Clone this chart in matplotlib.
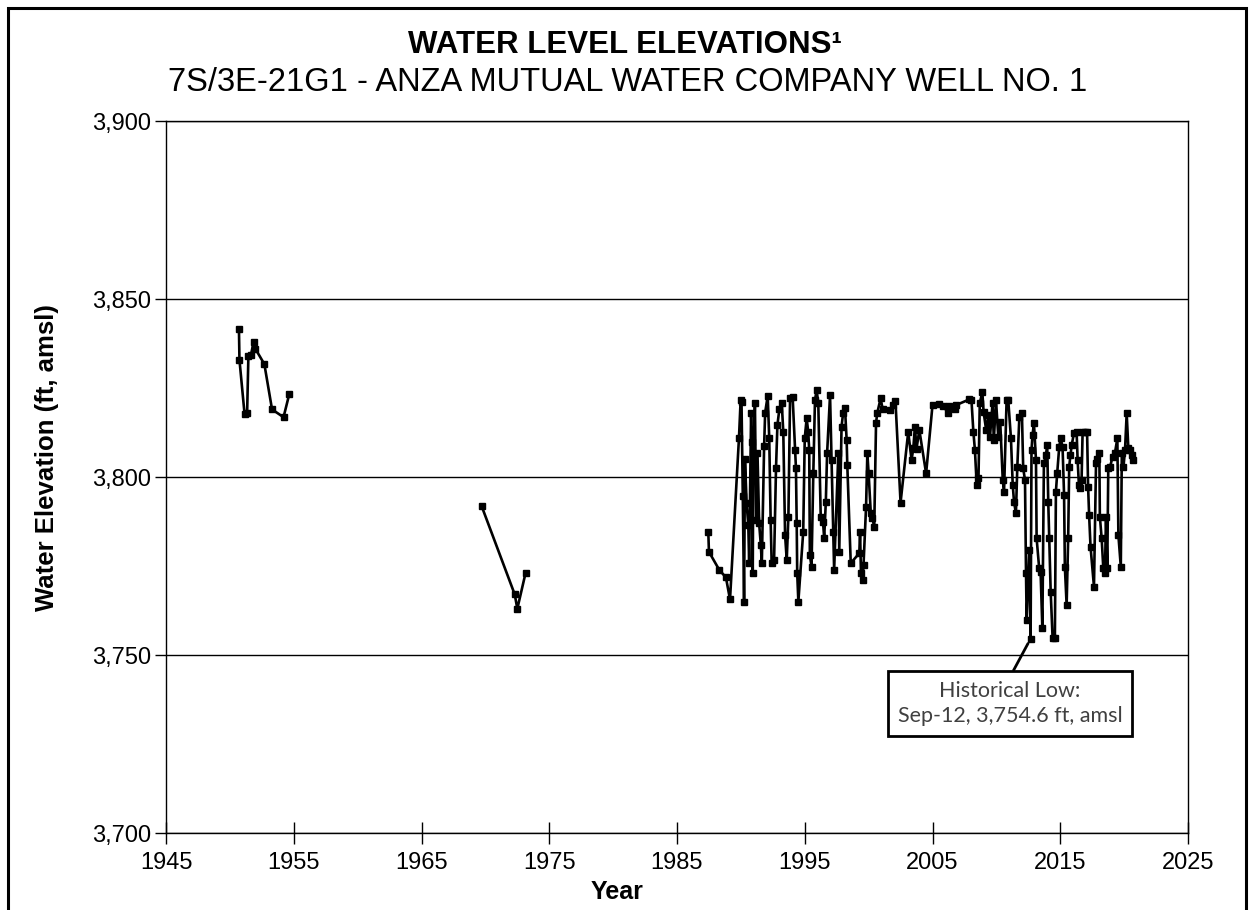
import matplotlib
matplotlib.use("Agg")
import matplotlib.pyplot as plt
from matplotlib.patches import Rectangle

plt.rcParams["font.family"] = ["Liberation Sans Narrow", "Liberation Sans", "DejaVu Sans"]

# 1950s record
yr_1950s = [1950.71, 1950.75, 1951.15, 1951.35, 1951.45, 1951.65, 1951.85, 1952.0,
            1952.7, 1953.3, 1954.2, 1954.65]
el_1950s = [3841.6, 3832.9, 3817.7, 3818.0, 3834.0, 3834.3, 3837.8, 3836.0,
            3831.7, 3819.0, 3816.8, 3823.3]

# early 1970s record
yr_1970s = [1969.7, 1972.3, 1972.5, 1973.15]
el_1970s = [3791.9, 3767.0, 3763.0, 3773.1]

# 1987 - 2020 record
yr_recent = [
    1987.45, 1987.5, 1988.31, 1988.83, 1989.15, 1989.85, 1989.98, 1990.05, 1990.15, 1990.25,
    1990.32, 1990.45, 1990.58, 1990.65, 1990.8, 1990.85, 1990.93, 1990.97, 1991.1, 1991.2,
    1991.3, 1991.43, 1991.56, 1991.64, 1991.82, 1991.9, 1992.1, 1992.22, 1992.33, 1992.41,
    1992.6, 1992.75, 1992.86, 1993.01, 1993.2, 1993.32, 1993.46, 1993.59, 1993.72, 1993.85,
    1994.05, 1994.24, 1994.31, 1994.37, 1994.41, 1994.5, 1994.88, 1995.0, 1995.15, 1995.27,
    1995.35, 1995.4, 1995.53, 1995.67, 1995.8, 1995.93, 1996.06, 1996.25, 1996.43, 1996.52,
    1996.65, 1996.75, 1996.98, 1997.1, 1997.23, 1997.3, 1997.63, 1997.7, 1997.88, 1998.0,
    1998.15, 1998.28, 1998.33, 1998.6, 1999.27, 1999.33, 1999.4, 1999.53, 1999.6, 1999.8,
    1999.9, 2000.0, 2000.17, 2000.3, 2000.44, 2000.58, 2000.67, 2000.94, 2001.1, 2001.7,
    2001.87, 2002.1, 2002.5, 2003.1, 2003.36, 2003.5, 2003.62, 2003.75, 2003.97, 2004.5,
    2005.0, 2005.53, 2005.84, 2006.25, 2006.3, 2006.76, 2006.84, 2007.88, 2008.05, 2008.2,
    2008.32, 2008.46, 2008.6, 2008.7, 2008.9, 2009.0, 2009.2, 2009.37, 2009.5, 2009.7,
    2009.8, 2009.97, 2010.15, 2010.3, 2010.5, 2010.6, 2010.8, 2010.93, 2011.14, 2011.28,
    2011.38, 2011.53, 2011.64, 2011.8, 2012.0, 2012.1, 2012.24, 2012.32, 2012.37, 2012.57,
    2012.68, 2012.75, 2012.83, 2012.94, 2013.1, 2013.15, 2013.35, 2013.46, 2013.6, 2013.72,
    2013.88, 2013.98, 2014.06, 2014.14, 2014.25, 2014.4, 2014.58, 2014.66, 2014.76, 2014.92,
    2015.03, 2015.18, 2015.3, 2015.36, 2015.5, 2015.62, 2015.7, 2015.8, 2015.9, 2016.07,
    2016.28, 2016.36, 2016.46, 2016.54, 2016.67, 2016.75, 2016.93, 2017.1, 2017.18, 2017.26,
    2017.37, 2017.64, 2017.8, 2017.9, 2018.06, 2018.1, 2018.24, 2018.37, 2018.5, 2018.58,
    2018.68, 2018.76, 2018.9, 2019.1, 2019.28, 2019.47, 2019.55, 2019.74, 2019.82, 2019.95,
    2020.07, 2020.2, 2020.33, 2020.46, 2020.6, 2020.67,
]
el_recent = [
    3784.6, 3779.0, 3773.9, 3771.8, 3765.6, 3810.9, 3821.5, 3821.0, 3794.7, 3765.0,
    3805.0, 3792.6, 3786.5, 3775.8, 3817.9, 3809.9, 3772.9, 3803.8, 3820.7, 3787.9,
    3806.7, 3787.0, 3780.9, 3775.8, 3808.7, 3818.1, 3822.8, 3810.9, 3787.9, 3775.8,
    3776.7, 3802.4, 3814.6, 3819.0, 3820.7, 3812.7, 3783.7, 3776.7, 3788.9, 3822.1,
    3822.6, 3807.6, 3802.6, 3787.0, 3772.9, 3765.0, 3784.6, 3810.9, 3816.5, 3812.7,
    3807.6, 3778.1, 3774.8, 3801.0, 3821.6, 3824.4, 3820.7, 3788.9, 3787.4, 3782.8,
    3793.1, 3806.7, 3823.0, 3804.8, 3784.6, 3773.9, 3806.7, 3779.0, 3814.1, 3817.9,
    3819.3, 3810.4, 3803.4, 3775.8, 3778.6, 3784.6, 3772.9, 3771.1, 3775.3, 3791.7,
    3806.7, 3801.0, 3789.8, 3788.4, 3786.0, 3815.1, 3817.9, 3822.1, 3819.0, 3818.8,
    3820.2, 3821.4, 3792.8, 3812.7, 3804.8, 3808.1, 3814.1, 3808.0, 3813.2, 3801.0,
    3820.2, 3820.5, 3819.9, 3817.9, 3819.9, 3819.0, 3820.2, 3821.8, 3821.6, 3812.7,
    3807.6, 3797.8, 3799.7, 3820.7, 3823.9, 3818.3, 3813.2, 3817.4, 3811.3, 3820.7,
    3810.4, 3821.6, 3811.3, 3815.5, 3799.2, 3795.9, 3821.6, 3821.6, 3810.9, 3797.8,
    3793.1, 3789.8, 3802.9, 3817.0, 3817.9, 3802.4, 3799.2, 3772.9, 3759.8, 3779.5,
    3754.6, 3807.6, 3811.8, 3815.1, 3804.8, 3782.8, 3774.4, 3773.4, 3757.5, 3803.8,
    3806.2, 3809.0, 3793.1, 3782.8, 3767.8, 3754.9, 3754.9, 3795.9, 3801.0, 3808.5,
    3810.9, 3808.5, 3794.9, 3774.8, 3764.0, 3782.8, 3802.9, 3806.2, 3809.0, 3812.3,
    3812.7, 3804.8, 3797.8, 3796.8, 3799.2, 3812.7, 3812.7, 3812.7, 3797.3, 3789.3,
    3780.4, 3769.2, 3803.8, 3805.2, 3806.7, 3788.9, 3782.8, 3774.4, 3772.9, 3788.9,
    3774.4, 3802.4, 3802.9, 3805.7, 3806.7, 3810.9, 3783.7, 3774.8, 3806.7, 3802.9,
    3807.6, 3817.9, 3808.1, 3807.6, 3806.2, 3804.8,
]

low_year, low_elev = 2012.68, 3754.6
low_label = "Historical Low:\nSep-12, 3,754.6 ft, amsl"

x_ticks = list(range(1945, 2026, 10))
y_ticks = [3700, 3750, 3800, 3850, 3900]

fig = plt.figure(figsize=(12.5, 9.1), dpi=100)
ax = fig.add_axes([0.1328, 0.0846, 0.8176, 0.7824])

for xs, ys in ((yr_1950s, el_1950s), (yr_1970s, el_1970s), (yr_recent, el_recent)):
    ax.plot(xs, ys, color="black", linewidth=1.9, marker="s", markersize=3.8,
            markerfacecolor="black", markeredgecolor="black", zorder=3)

ax.set_xlim(1945, 2025)
ax.set_ylim(3700, 3900)
ax.set_xticks(x_ticks)
ax.set_yticks(y_ticks)
ax.set_yticklabels([f"{v:,}" for v in y_ticks])
ax.yaxis.grid(True, color="black", linewidth=1.0)
ax.set_axisbelow(True)
for s in ax.spines.values():
    s.set_color("black")
    s.set_linewidth(1.0)
ax.tick_params(axis="x", direction="inout", length=16, width=1, labelsize=17, pad=6)
ax.tick_params(axis="y", direction="out", length=8, width=1, labelsize=17, pad=3)

ax.set_xlabel("Year", fontsize=18, fontweight="bold")
ax.xaxis.set_label_coords(0.441, -0.066)
ax.set_ylabel("Water Elevation (ft, amsl)", fontsize=18.5, fontweight="bold")
ax.yaxis.set_label_coords(-0.1047, 0.528)

ax.annotate(low_label, xy=(low_year, low_elev), xytext=(2011.07, 3736.4),
            textcoords="data", ha="center", va="center", fontsize=15.5,
            family=["Lato", "DejaVu Sans"], color="#404040", linespacing=1.3,
            bbox=dict(boxstyle="square,pad=0.45", facecolor="white",
                      edgecolor="black", linewidth=2),
            arrowprops=dict(arrowstyle="-", color="black", linewidth=2,
                            relpos=(0.49, 1.0), shrinkA=0, shrinkB=4),
            zorder=5)

fig.text(0.5, 0.951, "WATER LEVEL ELEVATIONS\u00b9", ha="center", va="center",
         fontsize=22.5, fontweight="bold")
fig.text(0.5025, 0.9095, "7S/3E-21G1 - ANZA MUTUAL WATER COMPANY WELL NO. 1",
         ha="center", va="center", fontsize=23.5)

# outer frame around the figure
fig.patches.append(Rectangle((0.0065, -0.05), 0.9905, 1.041, transform=fig.transFigure,
                             fill=False, edgecolor="black", linewidth=2.2))

fig.savefig("out.png", dpi=100)
